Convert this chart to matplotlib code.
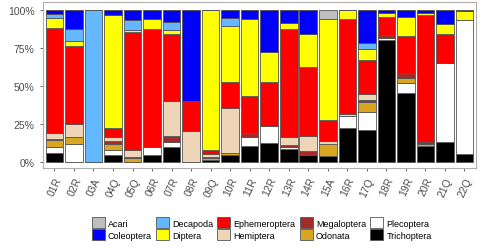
import numpy as np
import matplotlib.pyplot as plt
from matplotlib.patches import Patch

plt.rcParams['font.family'] = ['Liberation Sans', 'DejaVu Sans']

sites = ["01R", "02R", "03A", "04Q", "05Q", "06R", "07R", "08R", "09Q", "10R", "11R",
         "12R", "13R", "14R", "15A", "16R", "17Q", "18R", "19R", "20R", "21Q", "22Q"]

# relative abundance (%) per taxon, one value per site
acari = [0, 0, 0, 0, 0, 0, 0, 0, 0, 0, 0, 0, 0, 0, 5.9, 0, 0, 0, 0, 0, 0, 0]
coleoptera = [3.1, 12.5, 0, 3.7, 7, 6.1, 8.1, 60.2, 0, 5.3, 5.9,
              27.9, 8.8, 15.8, 0, 0, 21.9, 2, 4.8, 2, 9.2, 1.1]
decapoda = [2.2, 8, 100, 0, 6.1, 0, 5, 0, 0, 5.7, 0,
            0, 0, 0, 0, 0, 3.7, 0, 0, 0, 0, 0]
diptera = [6.8, 3.5, 0, 74.3, 1.5, 6.8, 2.6, 0, 92.1, 36.3, 51,
           19.8, 3.7, 22.2, 66.4, 5.9, 7.7, 2.9, 12.7, 1.8, 6.6, 5.9]
ephemeroptera = [69.2, 51, 0, 6, 77.4, 77.2, 44.2, 19.8, 3, 17.4, 24.2,
                 28.6, 71.4, 44.8, 13.8, 62.7, 21.9, 11.6, 24, 83.1, 19.1, 0]
hemiptera = [3.7, 9, 0, 2, 4.5, 0, 22.8, 20, 1.4, 29.5, 0,
             0, 4.8, 9.9, 2.2, 1.5, 4.4, 0, 0, 0, 0, 0]
megaloptera = [0.5, 0, 0, 2, 1.3, 0, 4.4, 0, 1, 0, 2.9,
               0, 1.8, 2.9, 0, 0, 1.1, 2.2, 3.5, 1.3, 0, 0]
odonata = [4.5, 4, 0, 4, 2.2, 0, 0, 0, 1.5, 1.4, 0,
           0, 0, 0, 7.7, 0, 6.6, 0, 3.1, 1.3, 0, 0]
plecoptera = [4.4, 12, 0, 3.4, 0, 5.4, 2.9, 0, 0, 0, 5.9,
              11.6, 1.3, 0, 0, 7.7, 12, 1.5, 6.6, 0, 51.9, 87.9]
trichoptera = [5.6, 0, 0, 4.6, 0, 4.5, 10, 0, 1, 4.4, 10.1,
               12.1, 8.2, 4.4, 4, 22.2, 20.7, 79.8, 45.3, 10.5, 13.2, 5.1]

taxa = ["Acari", "Coleoptera", "Decapoda", "Diptera", "Ephemeroptera",
        "Hemiptera", "Megaloptera", "Odonata", "Plecoptera", "Trichoptera"]
values = [acari, coleoptera, decapoda, diptera, ephemeroptera,
          hemiptera, megaloptera, odonata, plecoptera, trichoptera]
colors = ["#BEBEBE", "#0000FF", "#63B8FF", "#FFFF00", "#FF0000",
          "#EED5B7", "#A52A2A", "#DAA520", "#FFFFFF", "#000000"]

fig = plt.figure(figsize=(4.8, 2.51), dpi=100)
ax = fig.add_axes([0.089, 0.327, 0.903, 0.661])

x = np.arange(len(sites))
bottom = np.zeros(len(sites))
# ggplot stacks the first factor level on top, so draw from the last taxon up
for name, vals, col in reversed(list(zip(taxa, values, colors))):
    v = np.array(vals, dtype=float)
    ax.bar(x, v, bottom=bottom, width=0.9, color=col, edgecolor="#555555", linewidth=0.6)
    bottom += v

ax.set_xlim(-0.6, len(sites) - 0.4)
ax.set_ylim(-4, 105)
ax.set_yticks([0, 25, 50, 75, 100])
ax.set_yticklabels(["0%", "25%", "50%", "75%", "100%"])
ax.set_xticks(x)
ax.set_xticklabels(sites, rotation=65, ha="right", va="top", rotation_mode="anchor")
ax.tick_params(axis="both", colors="#4d4d4d", labelsize=7.5, length=2.5, width=0.6)
ax.tick_params(axis="x", pad=3)
for s in ax.spines.values():
    s.set_color("#b0b0b0")
    s.set_linewidth(0.8)

handles = [Patch(facecolor=c, edgecolor="#555555", linewidth=0.6, label=t)
           for t, c in zip(taxa, colors)]
fig.legend(handles=handles, ncol=5, loc="center", bbox_to_anchor=(0.545, 0.085),
           frameon=False, fontsize=6.5, handlelength=1.45, handleheight=1.45,
           handletextpad=0.35, columnspacing=0.45, labelspacing=0.12, borderpad=0)

fig.savefig("out.png", dpi=100)
